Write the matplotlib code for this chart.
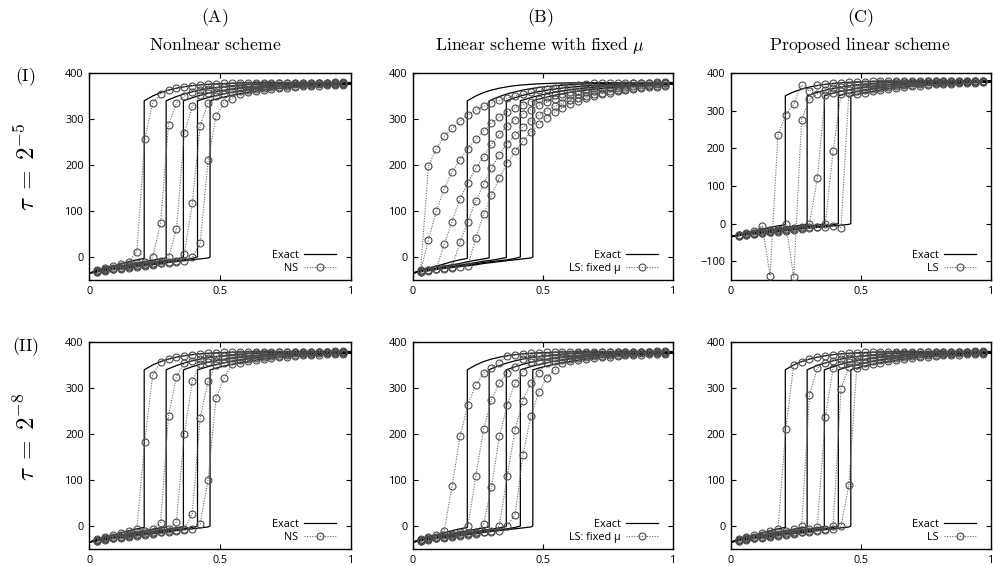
import matplotlib
matplotlib.use("Agg")
import matplotlib.pyplot as plt

plt.rcParams['mathtext.fontset'] = 'cm'
plt.rcParams['font.family'] = ['Open Sans', 'DejaVu Sans']

# ---------------- data ----------------
# spatial nodes (x = i/33)
x_nodes = [0.0, 0.0303, 0.0606, 0.0909, 0.1212, 0.1515, 0.1818, 0.2121, 0.2424,
           0.2727, 0.3030, 0.3333, 0.3636, 0.3939, 0.4242, 0.4545, 0.4848, 0.5152,
           0.5455, 0.5758, 0.6061, 0.6364, 0.6667, 0.6970, 0.7273, 0.7576, 0.7879,
           0.8182, 0.8485, 0.8788, 0.9091, 0.9394, 0.9697, 1.0]

# exact solution: front positions of the 5 snapshots
fronts = [0.21, 0.294, 0.36, 0.414, 0.462]
front_low = [-3, -2, -1, 0, 0]
front_high = [340, 340, 340, 340, 340]

# exact values at nodes left of the front
exact_lower = [
    [-35, -29, -24, -20, -15, -10, -6],
    [-35, -31, -27, -24, -20, -17, -14, -10, -7, -4],
    [-35, -31, -28, -25, -23, -20, -17, -15, -12, -9, -7, -4],
    [-35, -32, -29, -27, -24, -22, -19, -17, -15, -12, -10, -8, -6, -3],
    [-35, -32, -30, -27, -25, -23, -21, -19, -17, -14, -12, -10, -8, -6, -4, -2],
]
# exact values at nodes right of the front
exact_upper = [
    [340.8, 350.6, 358.0, 363.5, 367.6, 370.7, 373.1, 374.8, 376.1, 377.1, 377.8,
     378.4, 378.8, 379.1, 379.3, 379.5, 379.6, 379.7, 379.8, 379.8, 379.9, 379.9,
     379.9, 379.9, 380.0, 380.0, 380.0],
    [342.4, 349.4, 355.1, 359.7, 363.5, 366.6, 369.1, 371.1, 372.8, 374.1, 375.2,
     376.1, 376.8, 377.4, 377.9, 378.3, 378.6, 378.9, 379.1, 379.2, 379.4, 379.5,
     379.6, 379.7],
    [340.8, 346.9, 352.0, 356.3, 360.0, 363.1, 365.7, 367.9, 369.8, 371.4, 372.7,
     373.8, 374.8, 375.6, 376.3, 376.9, 377.3, 377.8, 378.1, 378.4, 378.6, 378.9],
    [341.9, 347.1, 351.6, 355.5, 358.8, 361.7, 364.2, 366.3, 368.2, 369.8, 371.2,
     372.4, 373.4, 374.3, 375.1, 375.8, 376.3, 376.8, 377.3, 377.6],
    [343.8, 348.2, 352.1, 355.5, 358.6, 361.2, 363.5, 365.5, 367.3, 368.9, 370.2,
     371.4, 372.5, 373.4, 374.2, 374.9, 375.6, 376.1],
]

# numerical solutions: node values that differ from the exact solution {node: value}
ns_tau5 = [
    {6: 12, 7: 256, 8: 336, 9: 355},
    {8: -1, 9: 75, 10: 288, 11: 335, 12: 350},
    {10: -1, 11: 61, 12: 270, 13: 328},
    {12: 6, 13: 117, 14: 286, 15: 336},
    {13: -1, 14: 30, 15: 211, 16: 306, 17: 336, 18: 345},
]
ns_tau8 = [
    {7: 184, 8: 329},
    {9: 7, 10: 240, 11: 325},
    {11: 9, 12: 201, 13: 315},
    {13: 27, 14: 235, 15: 315},
    {14: 5, 15: 101, 16: 278, 17: 322},
]
lsfix_tau5 = [
    {2: 198, 3: 236, 4: 263, 5: 280, 6: 296, 7: 309, 8: 320, 9: 328, 10: 335,
     11: 341, 12: 346, 13: 351, 14: 355, 15: 359, 16: 363, 17: 366, 18: 369,
     19: 371, 20: 373, 21: 375, 22: 377},
    {2: 38, 3: 100, 4: 149, 5: 185, 6: 212, 7: 236, 8: 256, 9: 275, 10: 292,
     11: 305, 12: 316, 13: 325, 14: 332, 15: 338, 16: 343, 17: 348, 18: 352,
     19: 356, 20: 359, 21: 362, 22: 365, 23: 367, 24: 369, 25: 371, 26: 373,
     27: 375},
    {4: 28, 5: 77, 6: 127, 7: 161, 8: 193, 9: 218, 10: 245, 11: 267, 12: 285,
     13: 299, 14: 311, 15: 321, 16: 330, 17: 337, 18: 343, 19: 348, 20: 352,
     21: 356, 22: 359, 23: 362, 24: 365, 25: 367, 26: 369, 27: 371, 28: 372.5,
     29: 374, 30: 375, 31: 376},
    {6: 33, 7: 76, 8: 122, 9: 158, 10: 194, 11: 223, 12: 247, 13: 266, 14: 283,
     15: 297, 16: 309, 17: 319, 18: 328, 19: 335, 20: 341, 21: 346, 22: 351,
     23: 355, 24: 358, 25: 361, 26: 364, 27: 366, 28: 368, 29: 370, 30: 372,
     31: 373, 32: 374},
    {8: 41, 9: 93, 10: 134, 11: 172, 12: 205, 13: 230, 14: 252, 15: 272, 16: 289,
     17: 303, 18: 315, 19: 325, 20: 333, 21: 340, 22: 346, 23: 351, 24: 355,
     25: 358, 26: 361, 27: 364, 28: 366, 29: 368, 30: 370, 31: 371, 32: 372},
]
lsfix_tau8 = [
    {4: -10, 5: 87, 6: 195, 7: 264, 8: 307, 9: 333, 10: 345, 11: 356},
    {7: 0, 8: 108, 9: 211, 10: 275, 11: 311, 12: 333, 13: 347},
    {9: 4, 10: 85, 11: 195, 12: 264, 13: 311, 14: 336},
    {11: 0, 12: 110, 13: 210, 14: 273, 15: 311, 16: 333},
    {12: 0, 13: 25, 14: 155, 15: 240, 16: 291, 17: 323, 18: 340},
]
ls_tau5 = [
    {4: -6, 5: -139, 6: 237, 7: 290, 8: 318, 9: 369, 10: 352},
    {7: -2, 8: -143, 9: 277, 10: 331, 11: 345},
    {10: -2, 11: 122, 12: 343},
    {12: -2, 13: 193, 14: 345},
    {14: -11, 15: 347},
]
ls_tau8 = [
    {7: 212},
    {9: -1, 10: 286, 11: 344},
    {11: -2, 12: 237, 13: 344},
    {13: 0, 14: 299, 15: 346},
    {14: 0, 15: 89, 16: 344},
]

col_letters = ['(A)', '(B)', '(C)']
col_titles = [r'$\mathrm{Nonlnear\ scheme}$',
              r'$\mathrm{Linear\ scheme\ with\ fixed}\ \mu$',
              r'$\mathrm{Proposed\ linear\ scheme}$']
legend_labels = ['NS', 'LS: fixed \u03bc', 'LS']
row_letters = ['(I)', '(II)']
row_taus = [r'$\tau\;=\;2^{-5}$', r'$\tau\;=\;2^{-8}$']
panel_data = [[ns_tau5, lsfix_tau5, ls_tau5], [ns_tau8, lsfix_tau8, ls_tau8]]
x_ticks = [0, 0.5, 1]
x_ticklabels = ['0', '0.5', '1']

# ---------------- layout ----------------
W, H = 993, 566
fig = plt.figure(figsize=(W / 100, H / 100), dpi=100)

col_left = [89.3, 412.7, 730.7]
col_width = [261.4, 260.0, 260.0]
row_top = [73.3, 342.3]
row_bottom = [280.0, 549.0]
col_center = [215, 540, 860]

num_line_color = '#6a6a6a'
num_edge_color = '#4a4a4a'

for r in range(2):
    for c in range(3):
        l = col_left[c] / W
        b = 1 - row_bottom[r] / H
        w = col_width[c] / W
        h = (row_bottom[r] - row_top[r]) / H
        ax = fig.add_axes([l, b, w, h])
        data = panel_data[r][c]
        for k in range(5):
            nl = len(exact_lower[k])
            # exact curve
            xs = x_nodes[:nl] + [fronts[k], fronts[k]] + x_nodes[nl:]
            ys = exact_lower[k] + [front_low[k], front_high[k]] + exact_upper[k]
            ax.plot(xs, ys, color='black', lw=0.9, zorder=3,
                    label='Exact' if k == 0 else None)
            # numerical curve
            exact_nodes = exact_lower[k] + exact_upper[k]
            vals = [data[k].get(i, exact_nodes[i]) for i in range(len(x_nodes))]
            ax.plot(x_nodes[1:-1], vals[1:-1], linestyle=(0, (1, 1.3)), lw=0.8,
                    color=num_line_color, marker='o', markersize=5.0,
                    markerfacecolor='none', markeredgecolor=num_edge_color,
                    markeredgewidth=0.8, zorder=4,
                    label=legend_labels[c] if k == 0 else None)
        ax.set_xlim(0, 1)
        if r == 0 and c == 2:
            ax.set_ylim(-150, 400)
            ax.set_yticks([-100, 0, 100, 200, 300, 400])
        else:
            ax.set_ylim(-50, 400)
            ax.set_yticks([0, 100, 200, 300, 400])
        ax.set_xticks(x_ticks)
        ax.set_xticklabels(x_ticklabels)
        ax.tick_params(direction='in', top=True, right=True, length=3.5,
                       width=0.8, labelsize=7.8, pad=4)
        for s in ax.spines.values():
            s.set_linewidth(1.0)
        ax.legend(loc='lower right', bbox_to_anchor=(0.945, 0.03),
                  frameon=False, markerfirst=False, handlelength=3.0,
                  handletextpad=0.5, labelspacing=0.2, borderpad=0,
                  borderaxespad=0, fontsize=7.8, numpoints=1)

for c in range(3):
    fig.text(col_center[c] / W, 1 - 18 / H, r'$\mathrm{' + col_letters[c] + '}$',
             ha='center', va='center', fontsize=12.8)
    fig.text(col_center[c] / W, 1 - 45 / H, col_titles[c],
             ha='center', va='center', fontsize=12.8)

row_letter_y = [77, 347]
row_tau_y = [167, 437]
for r in range(2):
    fig.text(25 / W, 1 - row_letter_y[r] / H, r'$\mathrm{' + row_letters[r] + '}$',
             ha='center', va='center', fontsize=12.8)
    fig.text(28 / W, 1 - row_tau_y[r] / H, row_taus[r], rotation=90,
             ha='center', va='center', fontsize=18)

fig.savefig('out.png', dpi=100)
